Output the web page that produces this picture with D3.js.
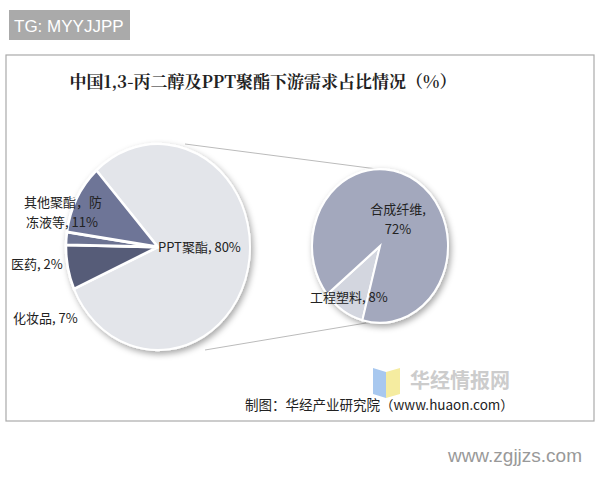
<!DOCTYPE html><html><head><meta charset="utf-8"><script src="https://cdn.jsdelivr.net/npm/d3@7"></script>
<style>body{margin:0;background:#fff}</style></head><body><script>
const mainCats=["PPT聚酯","化妆品","医药","其他聚酯，防冻液等"];
const mainVals=[80,7,2,11];
const subCats=["工程塑料","合成纤维"];
const subVals=[8,72];
const W=600,H=480;
const svg=d3.select("body").append("svg").attr("width",W).attr("height",H);
const defs=svg.append("defs");
const f=defs.append("filter").attr("id","sh").attr("x","-20%").attr("y","-20%").attr("width","140%").attr("height","140%");
f.append("feDropShadow").attr("dx",2).attr("dy",3).attr("stdDeviation",3).attr("flood-color","#000").attr("flood-opacity",0.35);
svg.append("rect").attr("x",9).attr("y",10).attr("width",121).attr("height",30).attr("fill","#aaaaaa");
svg.append("text").attr("x",14).attr("y",32).attr("fill","#fff").attr("font-family","Liberation Sans, Arial").attr("font-size",17).text("TG: MYYJJPP");
svg.append("rect").attr("x",6).attr("y",55).attr("width",588).attr("height",366).attr("fill","#fff").attr("stroke","#aaa").attr("stroke-width",1.2);
svg.append("text").attr("x",263).attr("y",88).attr("text-anchor","middle").attr("font-family","Noto Serif CJK SC, Noto Sans CJK SC").attr("font-weight","bold").attr("font-size",17).attr("fill","#222").text("中国1,3-丙二醇及PPT聚酯下游需求占比情况（%）");
const cx=158,cy=247,r=92, cx2=380,cy2=246,r2=68;
const lines=[[[185,144],[400,172]],[[205,350],[372,322]]];
svg.selectAll("line.c").data(lines).join("line").attr("x1",d=>d[0][0]).attr("y1",d=>d[0][1]).attr("x2",d=>d[1][0]).attr("y2",d=>d[1][1]).attr("stroke","#bbb").attr("stroke-width",1);
const deg=Math.PI/180;
const mainCols=["#e3e5ea","#565b78","#6c7392","#6e7597"];
const pie=d3.pie().sort(null).startAngle(-42*deg).endAngle(318*deg);
const arc=d3.arc().innerRadius(0).outerRadius(r);
const g=svg.append("g").attr("filter","url(#sh)").append("g").attr("transform",`translate(${cx},${cy}) scale(1,1.12)`);
g.selectAll("path").data(pie(mainVals)).join("path").attr("d",arc).attr("fill",(d,i)=>mainCols[i]).attr("stroke","#fff").attr("stroke-width",(d,i)=>i==0?2:2.5);
const pie2=d3.pie().sort(null).startAngle(195*deg).endAngle(555*deg);
const arc2=d3.arc().innerRadius(0).outerRadius(r2);
const subCols=["#d3d6df","#a3a8bd"];
const g2=svg.append("g").attr("filter","url(#sh)").append("g").attr("transform",`translate(${cx2},${cy2}) scale(1,1.13)`);
g2.selectAll("path").data(pie2(subVals)).join("path").attr("d",arc2).attr("fill",(d,i)=>subCols[i]).attr("stroke","#fff").attr("stroke-width",2);
const ft="Noto Sans CJK SC, Liberation Sans";
function lab(x,y,t,anchor="start"){svg.append("text").attr("x",x).attr("y",y).attr("text-anchor",anchor).attr("font-family",ft).attr("font-size",13).attr("fill","#222").text(t);}
lab(158,252,mainCats[0]+", "+mainVals[0]+"%");
lab(24,207,"其他聚酯，防");
lab(26,227,"冻液等, "+mainVals[3]+"%");
lab(11,269,mainCats[2]+", "+mainVals[2]+"%");
lab(13,323,mainCats[1]+", "+mainVals[1]+"%");
lab(398,214,subCats[1]+",","middle");
lab(398,234,subVals[1]+"%","middle");
lab(310,302,subCats[0]+", "+subVals[0]+"%");
svg.append("path").attr("d","M373,368 L386,372 L386,398 L373,394Z").attr("fill","#a8c8ef");
svg.append("path").attr("d","M386,372 L400,368 L400,394 L386,398Z").attr("fill","#f5eca0");
svg.append("text").attr("x",410).attr("y",388).attr("font-family",ft).attr("font-size",20).attr("font-weight","bold").attr("fill","#ccc").text("华经情报网");
svg.append("text").attr("x",245).attr("y",410).attr("font-family",ft).attr("font-size",13.5).attr("fill","#222").text("制图：华经产业研究院（www.huaon.com）");
svg.append("text").attr("x",582).attr("y",462).attr("text-anchor","end").attr("font-family","Liberation Sans, Arial").attr("font-size",19).attr("fill","#999").text("www.zgjjzs.com");
</script></body></html>
